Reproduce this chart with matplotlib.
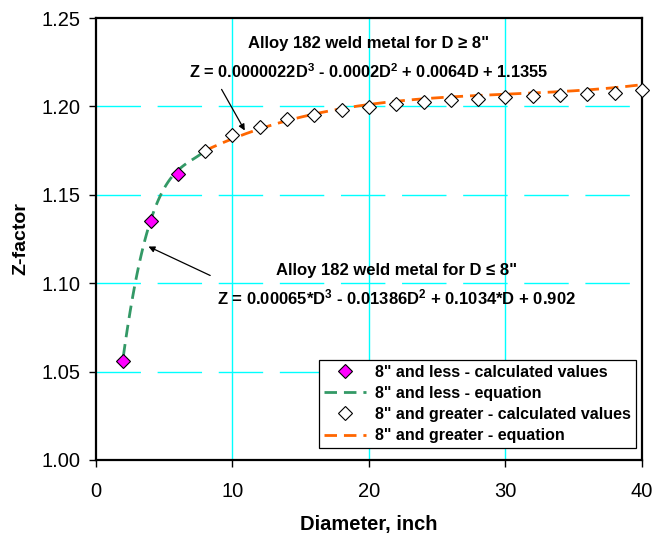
import numpy as np
import matplotlib
matplotlib.use("Agg")
import matplotlib.pyplot as plt

plt.rcParams['font.family'] = ['Liberation Sans', 'DejaVu Sans']
plt.rcParams['lines.scale_dashes'] = False
plt.rcParams['mathtext.fontset'] = 'custom'
plt.rcParams['mathtext.rm'] = 'Liberation Sans'
plt.rcParams['mathtext.bf'] = 'Liberation Sans:bold'
plt.rcParams['mathtext.default'] = 'bf'

# calculated Z-factors
d_small = [2, 4, 6]
z_small = [1.056, 1.135, 1.162]
d_large = [8, 10, 12, 14, 16, 18, 20, 22, 24, 26, 28, 30, 32, 34, 36, 38, 40]
z_large = [1.175, 1.184, 1.1885, 1.193, 1.195, 1.198, 1.1995, 1.2014, 1.2027,
           1.2036, 1.2044, 1.2051, 1.2058, 1.2063, 1.2068, 1.2074, 1.2093]

# fitted cubic coefficients (D^3, D^2, D, const)
coef_small = [0.00065, -0.01386, 0.1034, 0.902]
coef_large = [0.0000022, -0.0002, 0.0064, 1.1355]
fit_small_range = (2, 8)
fit_large_range = (8, 40)

x_ticks = [0, 10, 20, 30, 40]
y_ticks = [1.00, 1.05, 1.10, 1.15, 1.20, 1.25]

fig = plt.figure(figsize=(6.55, 5.36), dpi=100)
ax = fig.add_axes([0.1466, 0.1418, 0.8334, 0.8246])

d1 = np.linspace(*fit_small_range, 61)
d2 = np.linspace(*fit_large_range, 161)
ax.plot(d1, np.polyval(coef_small, d1), color='#339966', lw=2.0,
        dashes=(9, 5), zorder=3, label='8" and less - equation')
ax.plot(d2, np.polyval(coef_large, d2), color='#ff6600', lw=2.0,
        dashes=(9, 5), zorder=3, label='8" and greater - equation')
ax.plot(d_small, z_small, ls='none', marker='D', ms=7, mfc='#ff00ff',
        mec='black', mew=0.8, zorder=4, label='8" and less - calculated values')
ax.plot(d_large, z_large, ls='none', marker='D', ms=7, mfc='white',
        mec='black', mew=0.8, zorder=4, clip_on=False,
        label='8" and greater - calculated values')

ax.set_xlim(0, 40)
ax.set_ylim(1.00, 1.25)
ax.set_xticks(x_ticks)
ax.set_yticks(y_ticks)
ax.set_yticklabels([f'{v:.2f}' for v in y_ticks])
ax.tick_params(direction='out', length=5, width=1, labelsize=14.5)
ax.tick_params(axis='x', pad=11)
ax.tick_params(axis='y', pad=6)

for v in x_ticks[1:-1]:
    ax.axvline(v, color='#00ffff', lw=1, zorder=1)
for v in y_ticks[1:-1]:
    ax.axhline(v, color='#00ffff', lw=1, dashes=(32, 12), zorder=1)

for s in ax.spines.values():
    s.set_linewidth(1.6)

ax.set_xlabel('Diameter, inch', fontsize=14.5, fontweight='bold', labelpad=10)
ax.set_ylabel('Z-factor', fontsize=14, fontweight='bold', labelpad=9)

ax.text(20.0, 1.2353, 'Alloy 182 weld metal for D ≥ 8"', ha='center',
        va='center', fontsize=12, fontweight='bold')
ax.text(20.0, 1.2195, r'Z = 0.0000022D$^{3}$ - 0.0002D$^{2}$ + 0.0064D + 1.1355',
        ha='center', va='center', fontsize=11.8, fontweight='bold')
ax.annotate('', xy=(11.0, 1.185), xytext=(9.1, 1.211),
            arrowprops=dict(arrowstyle='-|>', color='black', lw=0.9,
                            mutation_scale=9))

ax.text(22.05, 1.1072, 'Alloy 182 weld metal for D ≤ 8"', ha='center',
        va='center', fontsize=12, fontweight='bold')
ax.text(22.05, 1.0918, r'Z = 0.00065*D$^{3}$ - 0.01386D$^{2}$ + 0.1034*D + 0.902',
        ha='center', va='center', fontsize=12, fontweight='bold')
ax.annotate('', xy=(3.66, 1.1214), xytext=(8.55, 1.1037),
            arrowprops=dict(arrowstyle='-|>', color='black', lw=0.9,
                            mutation_scale=9))

handles, labels = ax.get_legend_handles_labels()
order = [2, 0, 3, 1]
leg = ax.legend([handles[i] for i in order], [labels[i] for i in order],
                loc='lower right', bbox_to_anchor=(0.989, 0.027),
                borderaxespad=0, fancybox=False, edgecolor='black',
                framealpha=1, prop={'weight': 'bold', 'size': 11.5},
                handlelength=2.6, handletextpad=0.6, labelspacing=0.39,
                borderpad=0.3)
leg.get_frame().set_linewidth(0.9)

fig.savefig('out.png', dpi=100)
